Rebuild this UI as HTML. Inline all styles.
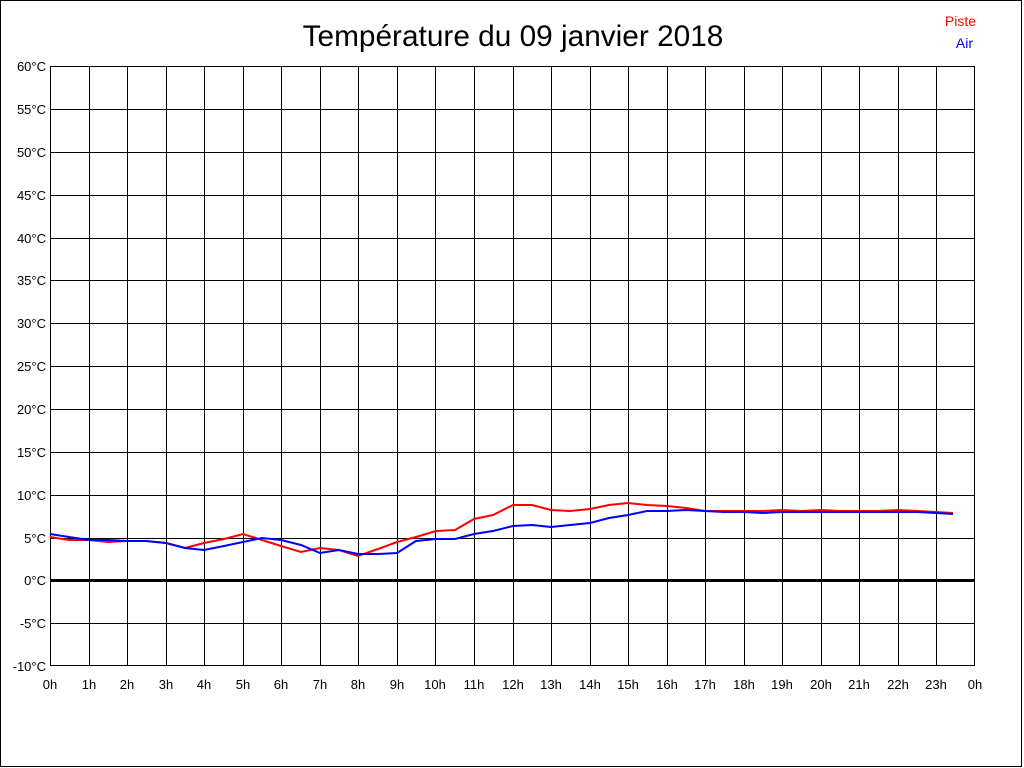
<!DOCTYPE html>
<html><head><meta charset="utf-8"><style>
html,body{margin:0;padding:0;background:#fff;width:1024px;height:768px;overflow:hidden}
svg{display:block}
text{font-family:"Liberation Sans",Arial,sans-serif}
</style></head><body>
<svg width="1024" height="768" xmlns="http://www.w3.org/2000/svg">
<rect x="0.5" y="0.5" width="1021" height="766" fill="#fff" stroke="#000"/>
<text x="513" y="46" font-size="29.8" text-anchor="middle">Température du 09 janvier 2018</text>
<text x="976" y="26" font-size="14" fill="#f00" text-anchor="end">Piste</text>
<text x="973" y="48" font-size="14" fill="#00f" text-anchor="end">Air</text>
<g stroke="#000" stroke-width="1" shape-rendering="crispEdges">
<path d="M50.5 66V666M89.5 66V666M127.5 66V666M166.5 66V666M204.5 66V666M243.5 66V666M281.5 66V666M320.5 66V666M358.5 66V666M397.5 66V666M435.5 66V666M474.5 66V666M513.5 66V666M551.5 66V666M590.5 66V666M628.5 66V666M667.5 66V666M705.5 66V666M744.5 66V666M782.5 66V666M821.5 66V666M859.5 66V666M898.5 66V666M936.5 66V666M974.5 66V666"/>
<path d="M50 66.5H975M50 109.5H975M50 152.5H975M50 195.5H975M50 238.5H975M50 280.5H975M50 323.5H975M50 366.5H975M50 409.5H975M50 452.5H975M50 495.5H975M50 538.5H975M50 623.5H975M50 665.5H975"/>
<path d="M50 580.5H975" stroke-width="3"/>
</g>
<g font-size="13" text-anchor="end">
<text x="46" y="71">60°C</text><text x="46" y="114">55°C</text><text x="46" y="157">50°C</text><text x="46" y="200">45°C</text><text x="46" y="243">40°C</text><text x="46" y="285">35°C</text><text x="46" y="328">30°C</text><text x="46" y="371">25°C</text><text x="46" y="414">20°C</text><text x="46" y="457">15°C</text><text x="46" y="500">10°C</text><text x="46" y="543">5°C</text><text x="46" y="585">0°C</text><text x="46" y="628">-5°C</text><text x="46" y="671">-10°C</text>
</g>
<g font-size="13" text-anchor="middle">
<text x="50" y="689">0h</text><text x="89" y="689">1h</text><text x="127" y="689">2h</text><text x="166" y="689">3h</text><text x="204" y="689">4h</text><text x="243" y="689">5h</text><text x="281" y="689">6h</text><text x="320" y="689">7h</text><text x="358" y="689">8h</text><text x="397" y="689">9h</text><text x="435" y="689">10h</text><text x="474" y="689">11h</text><text x="513" y="689">12h</text><text x="551" y="689">13h</text><text x="590" y="689">14h</text><text x="628" y="689">15h</text><text x="667" y="689">16h</text><text x="705" y="689">17h</text><text x="744" y="689">18h</text><text x="782" y="689">19h</text><text x="821" y="689">20h</text><text x="859" y="689">21h</text><text x="898" y="689">22h</text><text x="936" y="689">23h</text><text x="975" y="689">0h</text>
</g>
<polyline fill="none" stroke="#f00" stroke-width="2" points="50,537 69,540 89,540 108,542 127,541 146,541 166,543 185,548 204,543 224,539 243,534 262,540 281,546 301,552 320,548 339,550 358,556 378,549 397,542 416,537 436,531 455,530 474,519 493,515 513,505 532,505 551,510 570,511 590,509 609,505 628,503 647,505 667,506 686,508 705,511 724,511 744,511 763,511 782,510 801,511 821,510 840,511 859,511 878,511 898,510 917,511 936,512 953,513"/>
<polyline fill="none" stroke="#00f" stroke-width="2" points="50,534 69,537 89,540 108,540 127,541 146,541 166,543 185,548 204,550 224,546 243,542 262,538 281,540 301,545 320,553 339,550 358,554 378,554 397,553 416,541 436,539 455,539 474,534 493,531 513,526 532,525 551,527 570,525 590,523 609,518 628,515 647,511 667,511 686,510 705,511 724,512 744,512 763,513 782,512 801,512 821,512 840,512 859,512 878,512 898,512 917,512 936,513 953,514"/>
</svg>
</body></html>
